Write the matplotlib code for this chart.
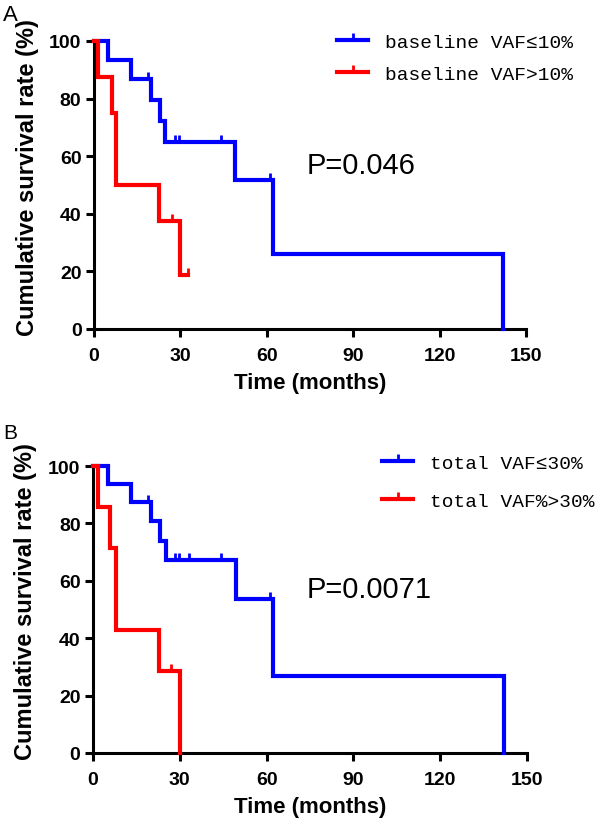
import matplotlib
matplotlib.use("Agg")
import matplotlib.pyplot as plt
from matplotlib.lines import Line2D
from matplotlib.font_manager import FontProperties

# ---------------- data ----------------
# Panel A
a_blue_t = [0, 4.9, 12.8, 19.9, 23.0, 24.7, 48.8, 62.0, 142.0]
a_blue_s = [100, 93.3, 86.7, 79.4, 72.2, 65.0, 51.8, 25.9, 0]
a_blue_cens = [18.8, 28.0, 29.6, 44.0, 61.0]
a_red_t = [0, 1.5, 6.1, 7.6, 22.7, 30.0, 32.5]
a_red_s = [100, 87.5, 75.0, 50.0, 37.5, 18.75, 18.75]
a_red_cens = [27.0, 32.5]
a_labels = ["baseline VAF\u226410%", "baseline VAF>10%"]
a_p = "P=0.046"

# Panel B
b_blue_t = [0, 5.1, 13.2, 20.0, 23.1, 25.2, 49.3, 62.1, 142.0]
b_blue_s = [100, 93.75, 87.5, 80.8, 74.0, 67.3, 53.8, 26.9, 0]
b_blue_cens = [19.0, 28.3, 29.7, 33.3, 44.3, 61.3]
b_red_t = [0, 1.7, 6.0, 7.9, 22.9, 30.0]
b_red_s = [100, 85.7, 71.4, 42.9, 28.6, 0]
b_red_cens = [27.1]
b_labels = ["total VAF\u226430%", "total VAF%>30%"]
b_p = "P=0.0071"

x_ticks = [0, 30, 60, 90, 120, 150]
y_ticks = [0, 20, 40, 60, 80, 100]

BLUE = "#0000ff"
RED = "#ff0000"
SANS = ["Liberation Sans", "DejaVu Sans"]
MONO = ["Liberation Mono", "DejaVu Sans Mono"]


def surv_at(ts, ss, t):
    v = ss[0]
    for ti, si in zip(ts, ss):
        if ti <= t:
            v = si
    return v


def draw_panel(ax, blue_t, blue_s, blue_c, red_t, red_s, red_c, labels, ptxt,
               leg_anchor, leg_spacing):
    for ts, ss, cs, col in [(blue_t, blue_s, blue_c, BLUE), (red_t, red_s, red_c, RED)]:
        ax.step(ts, ss, where="post", color=col, lw=3, clip_on=False,
                solid_joinstyle="miter", zorder=3)
        cy = [surv_at(ts, ss, c) for c in cs]
        ax.plot(cs, cy, ls="none", marker=2, ms=5, mew=2, color=col,
                clip_on=False, zorder=3)
    ax.set_xlim(0, 150)
    ax.set_ylim(0, 100)
    ax.set_xticks(x_ticks)
    ax.set_yticks(y_ticks)
    for s in ["top", "right"]:
        ax.spines[s].set_visible(False)
    for s in ["left", "bottom"]:
        ax.spines[s].set_linewidth(2.2)
    ax.tick_params(direction="out", length=6, width=2.2, labelsize=14)
    ax.tick_params(axis="x", pad=7)
    ax.tick_params(axis="y", pad=3)
    for lab in ax.get_xticklabels() + ax.get_yticklabels():
        lab.set_fontweight("bold")
        lab.set_family(SANS)
    ax.set_xlabel("Time (months)", fontsize=16, fontweight="bold", family=SANS, labelpad=6)
    ax.set_ylabel("Cumulative survival rate (%)", fontsize=17, fontweight="bold", family=SANS)
    ax.yaxis.set_label_coords(-0.128, 0.53)
    ax.text(74, 57, ptxt, fontsize=21, family=SANS, ha="left", va="center")
    handles = [Line2D([], [], color=BLUE, lw=3, marker=2, ms=5, mew=2),
               Line2D([], [], color=RED, lw=3, marker=2, ms=5, mew=2)]
    ax.legend(handles, labels, loc="upper left", bbox_to_anchor=leg_anchor,
              bbox_transform=ax.figure.transFigure, frameon=False,
              borderpad=0, borderaxespad=0, handlelength=1.6, handletextpad=0.85,
              labelspacing=leg_spacing, numpoints=1,
              prop=FontProperties(family=MONO, size=14))


fig = plt.figure(figsize=(6, 8.28), dpi=100)
W, H = 600.0, 828.0
axA = fig.add_axes([94 / W, 1 - 330 / H, 432 / W, 288 / H])
axB = fig.add_axes([93 / W, 1 - 754 / H, 434 / W, 287 / H])

draw_panel(axA, a_blue_t, a_blue_s, a_blue_cens, a_red_t, a_red_s, a_red_cens,
           a_labels, a_p, (337 / W, 1 - 34 / H), 0.76)
draw_panel(axB, b_blue_t, b_blue_s, b_blue_cens, b_red_t, b_red_s, b_red_cens,
           b_labels, b_p, (382 / W, 1 - 455 / H), 1.05)

fig.text(3 / W, 1 - 5 / H, "A", fontsize=16, family=SANS, ha="left", va="top")
fig.text(3 / W, 1 - 424 / H, "B", fontsize=15, family=SANS, ha="left", va="top")

fig.savefig("out.png", dpi=100, facecolor="white")
